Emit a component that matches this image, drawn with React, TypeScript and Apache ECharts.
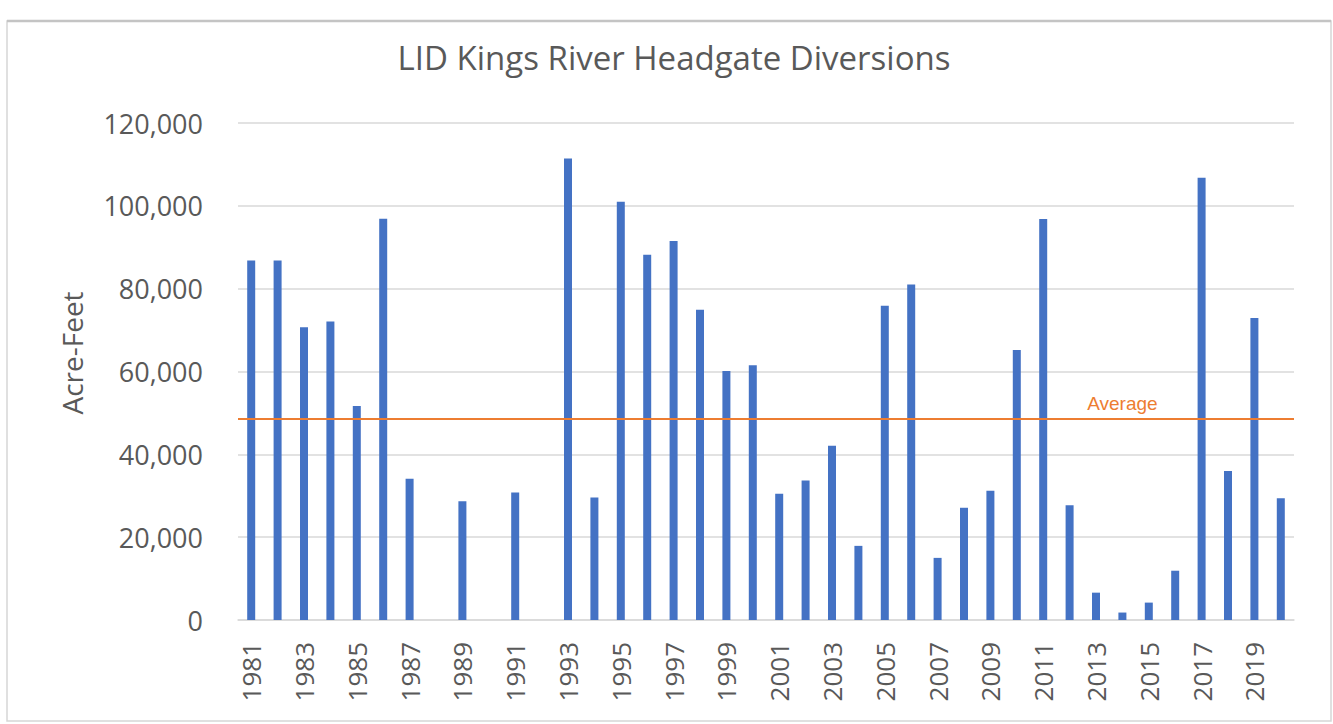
import React, { useEffect, useRef } from "react";
import * as echarts from "echarts";

const years: string[] = [
  "1981", "1982", "1983", "1984", "1985", "1986", "1987", "1988", "1989", "1990",
  "1991", "1992", "1993", "1994", "1995", "1996", "1997", "1998", "1999", "2000",
  "2001", "2002", "2003", "2004", "2005", "2006", "2007", "2008", "2009", "2010",
  "2011", "2012", "2013", "2014", "2015", "2016", "2017", "2018", "2019", "2020",
];

const diversions: number[] = [
  86800, 86800, 70700, 72100, 51700, 96900, 34100, 0, 28700, 0,
  30800, 0, 111400, 29600, 101000, 88200, 91500, 74900, 60100, 61500,
  30500, 33700, 42100, 17900, 75900, 81000, 15000, 27100, 31200, 65200,
  96800, 27700, 6600, 1800, 4200, 11900, 106800, 36000, 72900, 29400,
];

const averageValue = 48600;
const averageLabel = "Average";
const averageLabelYear = "2014";

const titleText = "LID Kings River Headgate Diversions";
const yAxisTitle = "Acre-Feet";

export default function App() {
  const ref = useRef<HTMLDivElement>(null);

  useEffect(() => {
    if (!ref.current) return;
    const chart = echarts.init(ref.current, null, { renderer: "svg" });
    chart.setOption({
      animation: false,
      backgroundColor: "#ffffff",
      title: {
        text: titleText,
        left: 669,
        textAlign: "center",
        top: 36,
        textStyle: {
          fontFamily: "Open Sans",
          fontSize: 33,
          fontWeight: "normal",
          color: "#595959",
        },
      },
      graphic: [
        {
          type: "rect",
          shape: { x: 7, y: 21, width: 1324, height: 700 },
          style: { fill: "none", stroke: "#d6d6d6", lineWidth: 1.5 },
          silent: true,
        },
        {
          type: "line",
          shape: { x1: 7, y1: 21, x2: 1331, y2: 21 },
          style: { stroke: "#c4c4c4", lineWidth: 2.5 },
          silent: true,
        },
        {
          type: "text",
          x: 72,
          y: 353,
          rotation: Math.PI / 2,
          style: {
            text: yAxisTitle,
            fontFamily: "Open Sans",
            fontSize: 28,
            fill: "#595959",
            align: "center",
            verticalAlign: "middle",
          },
        },
      ],
      grid: { left: 238, right: 39, top: 123, bottom: 104 },
      xAxis: {
        type: "category",
        data: years,
        axisLine: { lineStyle: { color: "#d9d9d9", width: 1.5 } },
        axisTick: { show: false },
        axisLabel: {
          interval: 1,
          rotate: 90,
          margin: 22,
          fontFamily: "Open Sans",
          fontSize: 26,
          color: "#595959",
        },
      },
      yAxis: {
        type: "value",
        min: 0,
        max: 120000,
        interval: 20000,
        axisLine: { show: false },
        axisTick: { show: false },
        splitLine: { lineStyle: { color: "#d9d9d9", width: 1.5 } },
        axisLabel: {
          margin: 35,
          fontFamily: "Open Sans",
          fontSize: 27,
          color: "#595959",
          formatter: (v: number) => v.toLocaleString("en-US"),
        },
      },
      series: [
        {
          type: "bar",
          data: diversions,
          barWidth: 8,
          itemStyle: { color: "#4472C4" },
          markLine: {
            silent: true,
            symbol: "none",
            label: { show: false },
            lineStyle: { color: "#ED7D31", width: 2, type: "solid" },
            data: [{ yAxis: averageValue }],
          },
          markPoint: {
            silent: true,
            symbol: "rect",
            symbolSize: 0,
            data: [{ coord: [averageLabelYear, averageValue] }],
            label: {
              show: true,
              formatter: averageLabel,
              position: "top",
              distance: 6,
              fontFamily: "Liberation Sans",
              fontSize: 19,
              color: "#ED7D31",
            },
          },
        },
      ],
    });
    return () => chart.dispose();
  }, []);

  return (
    <div
      ref={ref}
      style={{ position: "fixed", left: 0, top: 0, width: 1333, height: 724 }}
    />
  );
}
